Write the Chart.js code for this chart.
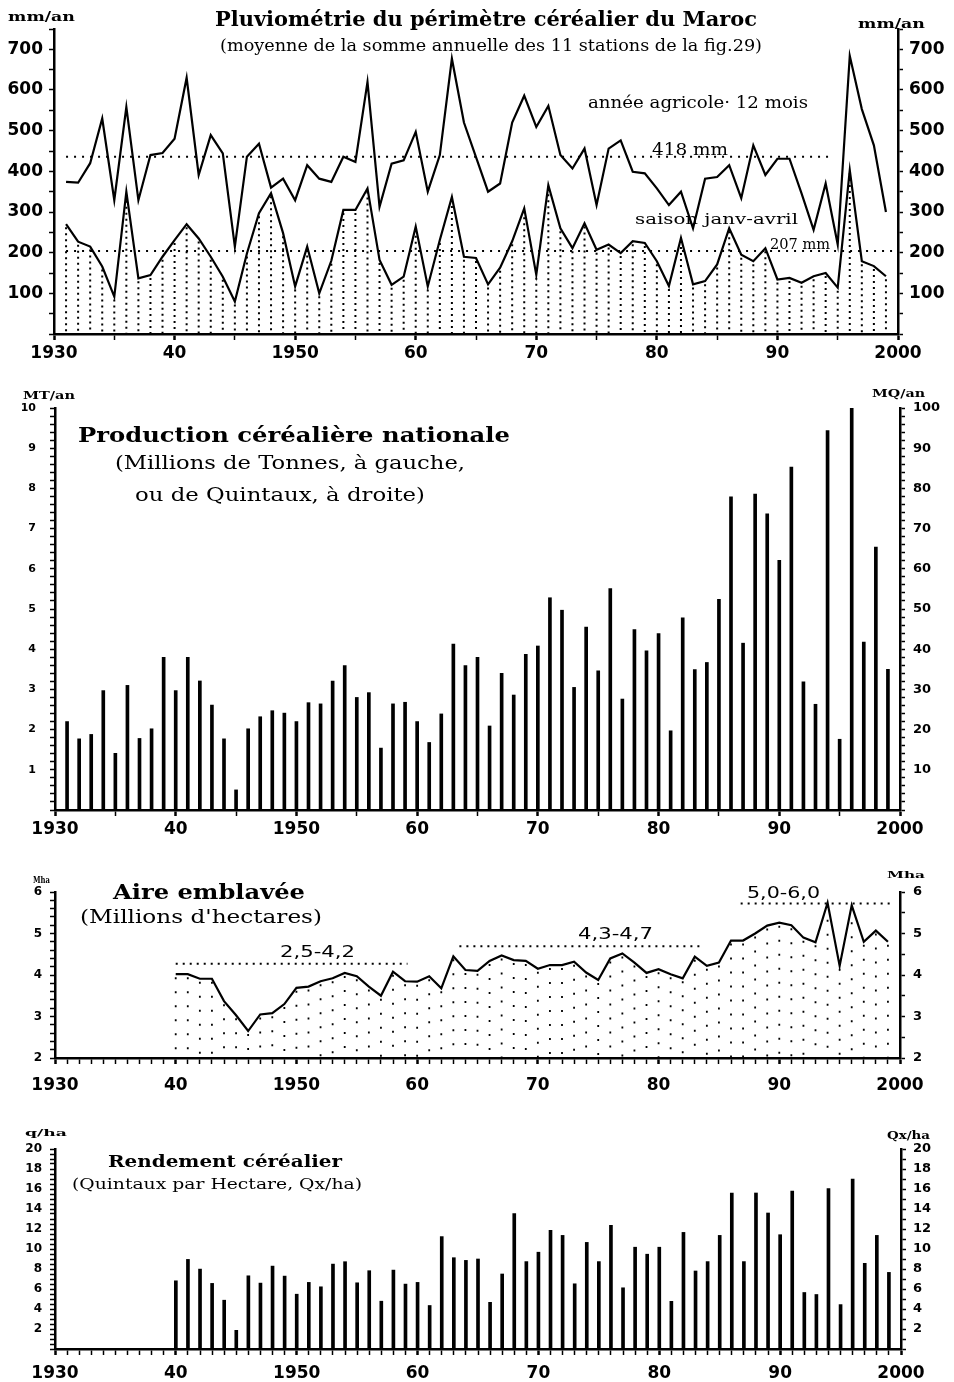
<!DOCTYPE html>
<html><head><meta charset="utf-8">
<script src="https://cdn.jsdelivr.net/npm/chart.js@4.4.1/dist/chart.umd.min.js"></script>
<style>
html,body{margin:0;padding:0;background:#fff}
body{width:954px;height:1382px;position:relative;overflow:hidden}
canvas{position:absolute;left:0}
.tx{position:absolute;white-space:nowrap;color:#000;line-height:1;transform-origin:0 50%}
</style></head><body>
<canvas id="c1" width="954" height="362" style="top:0px"></canvas>
<canvas id="c2" width="954" height="470" style="top:370px"></canvas>
<canvas id="c3" width="954" height="230" style="top:860px"></canvas>
<canvas id="c4" width="954" height="272" style="top:1110px"></canvas>
<script>
// ---------- DATA ----------
const xTickValues = [1930, 1940, 1950, 1960, 1970, 1980, 1990, 2000];
const xTickLabels = ['1930', '40', '1950', '60', '70', '80', '90', '2000'];

const rainYears = [1931,1932,1933,1934,1935,1936,1937,1938,1939,1940,1941,1942,1943,1944,1945,1946,1947,1948,1949,1950,1951,1952,1953,1954,1955,1956,1957,1958,1959,1960,1961,1962,1963,1964,1965,1966,1967,1968,1969,1970,1971,1972,1973,1974,1975,1976,1977,1978,1979,1980,1981,1982,1983,1984,1985,1986,1987,1988,1989,1990,1991,1992,1993,1994,1995,1996,1997,1998,1999];
const rainAnnual = [374,372,420,530,329,558,329,440,445,480, 630,391,489,444,215,436,468,360,382,329, 415,382,374,436,423,620,313,419,427,497, 350,440,677,520,435,350,370,520,586,509, 561,440,407,456,317,456,476,399,395,358, 317,350,260,382,386,415,334,464,391,431, 431,346,256,370,220,684,553,464,300];
const rainSeason = [270,227,215,166,92,350,137,145,190,231, 270,235,190,141,80,198,297,346,248,117, 215,100,180,305,305,358,182,121,141,264, 117,231,337,190,187,122,163,228,309,146, 366,260,211,272,207,220,199,228,224,179, 118,236,122,130,171,260,195,179,211,134, 138,126,142,150,114,403,179,167,142];
const rainRefLevels = [436, 204];
const rainRefStart = [1931, 1931];
const rainRefEnd = [1994.3, 2000];
const rainRefLabels = ['418 mm', '207 mm'];

const prodYears = rainYears;
const prodMT = [2.2,1.77,1.88,2.97,1.41,3.1,1.78,2.02,3.8,2.97, 3.8,3.21,2.61,1.77,0.5,2.02,2.32,2.47,2.41,2.2, 2.67,2.64,3.21,3.59,2.8,2.92,1.54,2.64,2.68,2.2, 1.68,2.39,4.13,3.59,3.8,2.09,3.4,2.86,3.87,4.08, 5.28,4.97,3.05,4.55,3.46,5.51,2.76,4.49,3.96,4.39, 1.97,4.78,3.49,3.67,5.24,7.79,4.15,7.86,7.37,6.21, 8.53,3.19,2.63,9.44,1.76,10.0,4.18,6.54,3.5];

const areaYears = [1940,1941,1942,1943,1944,1945,1946,1947,1948,1949,1950,1951,1952,1953,1954,1955,1956,1957,1958,1959,1960,1961,1962,1963,1964,1965,1966,1967,1968,1969,1970,1971,1972,1973,1974,1975,1976,1977,1978,1979,1980,1981,1982,1983,1984,1985,1986,1987,1988,1989,1990,1991,1992,1993,1994,1995,1996,1997,1998,1999];
const areaMha = [4.02,4.02,3.91,3.91,3.37,3.03,2.65,3.05,3.08,3.3, 3.69,3.72,3.85,3.92,4.05,3.97,3.72,3.5,4.08,3.85, 3.84,3.97,3.68,4.45,4.12,4.1,4.34,4.47,4.36,4.34, 4.15,4.24,4.24,4.32,4.06,3.88,4.4,4.52,4.3,4.05, 4.14,4.02,3.92,4.44,4.22,4.3,4.83,4.83,5.0,5.19, 5.26,5.2,4.9,4.79,5.74,4.22,5.68,4.8,5.07,4.8];
const rangeLabels = ['2,5-4,2', '4,3-4,7', '5,0-6,0'];
const rangeLevels = [4.27, 4.69, 5.72];
const rangeStart = [1940, 1963.5, 1986.8];
const rangeEnd = [1959.2, 1983.5, 1999.3];

const yieldYears = areaYears;
const yieldQxHa = [6.82,8.96,7.99,6.56,4.88,1.87,7.32,6.59,8.29,7.29, 5.48,6.66,6.22,8.49,8.73,6.62,7.83,4.78,7.89,6.49, 6.66,4.35,11.24,9.13,8.86,9.0,4.67,7.5,13.55,8.74, 9.68,11.87,11.36,6.52,10.66,8.74,12.37,6.12,10.18,9.48, 10.18,4.77,11.66,7.8,8.74,11.36,15.6,8.74,15.6,13.6, 11.43,15.8,5.65,5.45,16.03,4.44,17.0,8.57,11.36,7.66];

// ---------- HELPERS ----------
const SERIF = '"DejaVu Serif", "Liberation Serif", serif';
const SANS = '"DejaVu Sans", sans-serif';
const pts = (xs, ys) => xs.map((x, i) => ({x: x, y: ys[i]}));

function xAxis(minorStep, h, pad) {
  return {
    type: 'linear', min: 1930, max: 2000, offset: false,
    grid: {display: true, drawOnChartArea: false, drawTicks: true, tickLength: 6, tickColor: '#000', offset: false,
      tickWidth: (c) => (c.tick && Math.round(c.tick.value) % 10 === 0) ? 2.5 : 1.5},
    border: {display: true, color: '#000', width: 2.5},
    ticks: {stepSize: minorStep, autoSkip: false, maxRotation: 0, minRotation: 0, maxTicksLimit: 1000, padding: pad, color: '#000',
      font: {family: SANS, size: 17, weight: 'bold'},
      callback: (v) => { const i = xTickValues.indexOf(Math.round(v * 1000) / 1000); return i >= 0 ? xTickLabels[i] : ''; }},
    afterFit: (s) => { s.height = h; }
  };
}
function yAxis(pos, min, max, step, every, width, fsize, pad, showMin) {
  return {
    type: 'linear', position: pos, min: min, max: max,
    grid: {display: true, drawOnChartArea: false, drawTicks: true, tickLength: 5, tickColor: '#000', tickWidth: 1.5},
    border: {display: true, color: '#000', width: 2.5},
    ticks: {stepSize: step, autoSkip: false, maxTicksLimit: 1000, padding: pad, color: '#000',
      font: {family: SANS, size: fsize, weight: 'bold'},
      callback: (v) => {
        const r = v / every;
        if (Math.abs(r - Math.round(r)) > 1e-6) return '';
        if (!showMin && Math.abs(v - min) < 1e-9) return '';
        return String(Math.round(v));
      }},
    afterFit: (s) => { s.width = width; }
  };
}
const dropPlugin = {
  id: 'drops',
  beforeDatasetsDraw(chart, args, opts) {
    if (!opts || opts.index === undefined) return;
    const meta = chart.getDatasetMeta(opts.index);
    const ctx = chart.ctx, bottom = chart.chartArea.bottom;
    ctx.save();
    ctx.strokeStyle = '#000'; ctx.lineWidth = opts.width; ctx.setLineDash(opts.dash);
    meta.data.forEach(p => {
      ctx.beginPath(); ctx.moveTo(p.x, p.y + 3); ctx.lineTo(p.x, bottom); ctx.stroke();
    });
    ctx.restore();
  }
};
function baseOptions(top, scales, drops) {
  return {
    responsive: false, maintainAspectRatio: false, animation: false, devicePixelRatio: 1, events: [],
    layout: {padding: {top: top, left: 0, right: 0, bottom: 0}},
    plugins: {legend: {display: false}, tooltip: {enabled: false}, drops: drops || {}},
    scales: scales
  };
}
const lineDs = (data, w, dash) => ({data: data, borderColor: '#000', borderWidth: w, pointRadius: 0, tension: 0, fill: false, borderDash: dash || []});

// ---------- CHART 1: rainfall ----------
const c1ds = [lineDs(pts(rainYears, rainAnnual), 2.2), lineDs(pts(rainYears, rainSeason), 2.2)];
rainRefLevels.forEach((lv, i) => c1ds.push(lineDs([{x: rainRefStart[i], y: lv}, {x: rainRefEnd[i], y: lv}], 2, [2, 6])));
new Chart(document.getElementById('c1'), {
  type: 'line', data: {datasets: c1ds}, plugins: [dropPlugin],
  options: baseOptions(29, {
    x: xAxis(5, 28, 3),
    y: yAxis('left', 0, 750, 50, 100, 54, 17, 6, false),
    y2: yAxis('right', 0, 750, 50, 100, 56, 17, 6, false)
  }, {index: 1, width: 2, dash: [2, 4]})
});

// ---------- CHART 2: production ----------
new Chart(document.getElementById('c2'), {
  type: 'bar',
  data: {datasets: [{data: pts(prodYears, prodMT), backgroundColor: '#000', barThickness: 3}]},
  options: baseOptions(38, {
    x: xAxis(5, 30, 3),
    y: yAxis('left', 0, 10, 0.2, 1, 55, 11, 14, false),
    y2: yAxis('right', 0, 100, 2, 10, 54, 13, 8, false)
  })
});

// ---------- CHART 3: area ----------
const c3ds = [lineDs(pts(areaYears, areaMha), 2.2)];
rangeLevels.forEach((lv, i) => c3ds.push(lineDs([{x: rangeStart[i], y: lv}, {x: rangeEnd[i], y: lv}], 2, [2, 5])));
new Chart(document.getElementById('c3'), {
  type: 'line', data: {datasets: c3ds}, plugins: [dropPlugin],
  options: baseOptions(32, {
    x: xAxis(1, 32, 11),
    y: yAxis('left', 2, 6, 0.2, 1, 55, 12, 8, true),
    y2: yAxis('right', 2, 6, 0.5, 1, 54, 13, 8, true)
  }, {index: 0, width: 1.8, dash: [2, 12]})
});

// ---------- CHART 4: yield ----------
new Chart(document.getElementById('c4'), {
  type: 'bar',
  data: {datasets: [{data: pts(yieldYears, yieldQxHa), backgroundColor: '#000', barThickness: 3}]},
  options: baseOptions(39, {
    x: xAxis(1, 33, 8),
    y: yAxis('left', 0, 20, 0.5, 2, 55, 12, 8, false),
    y2: yAxis('right', 0, 20, 1, 2, 53, 13, 7, false)
  })
});

// ---------- TEXT ----------
function addText(str, x0, x1, yc, size, family, weight) {
  const d = document.createElement('div');
  d.className = 'tx';
  d.textContent = str;
  d.style.font = weight + ' ' + size + 'px ' + family;
  d.style.left = x0 + 'px';
  d.style.top = (yc - size / 2) + 'px';
  document.body.appendChild(d);
  const w = d.getBoundingClientRect().width;
  if (w > 0) d.style.transform = 'scaleX(' + ((x1 - x0) / w) + ')';
}
const texts = [
  ['Pluviométrie du périmètre céréalier du Maroc', 215, 757, 17, 20, SERIF, 'bold'],
  ['(moyenne de la somme annuelle des 11 stations de la fig.29)', 220, 762, 44, 16, SERIF, 'normal'],
  ['mm/an', 8, 75, 15, 13, SERIF, 'bold'],
  ['mm/an', 858, 925, 22, 13, SERIF, 'bold'],
  ['année agricole· 12 mois', 588, 808, 101, 16, SERIF, 'normal'],
  [rainRefLabels[0], 652, 728, 147, 17, SERIF, 'normal'],
  ['saison  janv-avril', 635, 798, 218, 14, SERIF, 'normal'],
  [rainRefLabels[1], 770, 830, 242, 15, SERIF, 'normal'],
  ['MT/an', 23, 75, 394, 11, SERIF, 'bold'],
  ['MQ/an', 872, 925, 392, 11, SERIF, 'bold'],
  ['Production céréalière nationale', 78, 510, 432, 21, SERIF, 'bold'],
  ['(Millions de Tonnes, à gauche,', 115, 465, 460, 19, SERIF, 'normal'],
  ['ou de Quintaux, à droite)', 135, 425, 492, 19, SERIF, 'normal'],
  ['Mha', 33, 50, 879, 10, SERIF, 'bold'],
  ['Mha', 887, 925, 874, 10, SERIF, 'bold'],
  ['Aire emblavée', 113, 305, 890, 20, SERIF, 'bold'],
  ["(Millions d'hectares)", 80, 322, 915, 18, SERIF, 'normal'],
  [rangeLabels[0], 280, 355, 950, 16, SANS, 'normal'],
  [rangeLabels[1], 578, 653, 932, 16, SANS, 'normal'],
  [rangeLabels[2], 747, 820, 891, 16, SANS, 'normal'],
  ['q/ha', 25, 67, 1132, 10, SERIF, 'bold'],
  ['Qx/ha', 887, 930, 1134, 11, SERIF, 'bold'],
  ['Rendement céréalier', 108, 342, 1160, 16, SERIF, 'bold'],
  ['(Quintaux par Hectare, Qx/ha)', 72, 362, 1182, 15, SERIF, 'normal']
];
texts.forEach(t => addText.apply(null, t));
</script>
</body></html>
